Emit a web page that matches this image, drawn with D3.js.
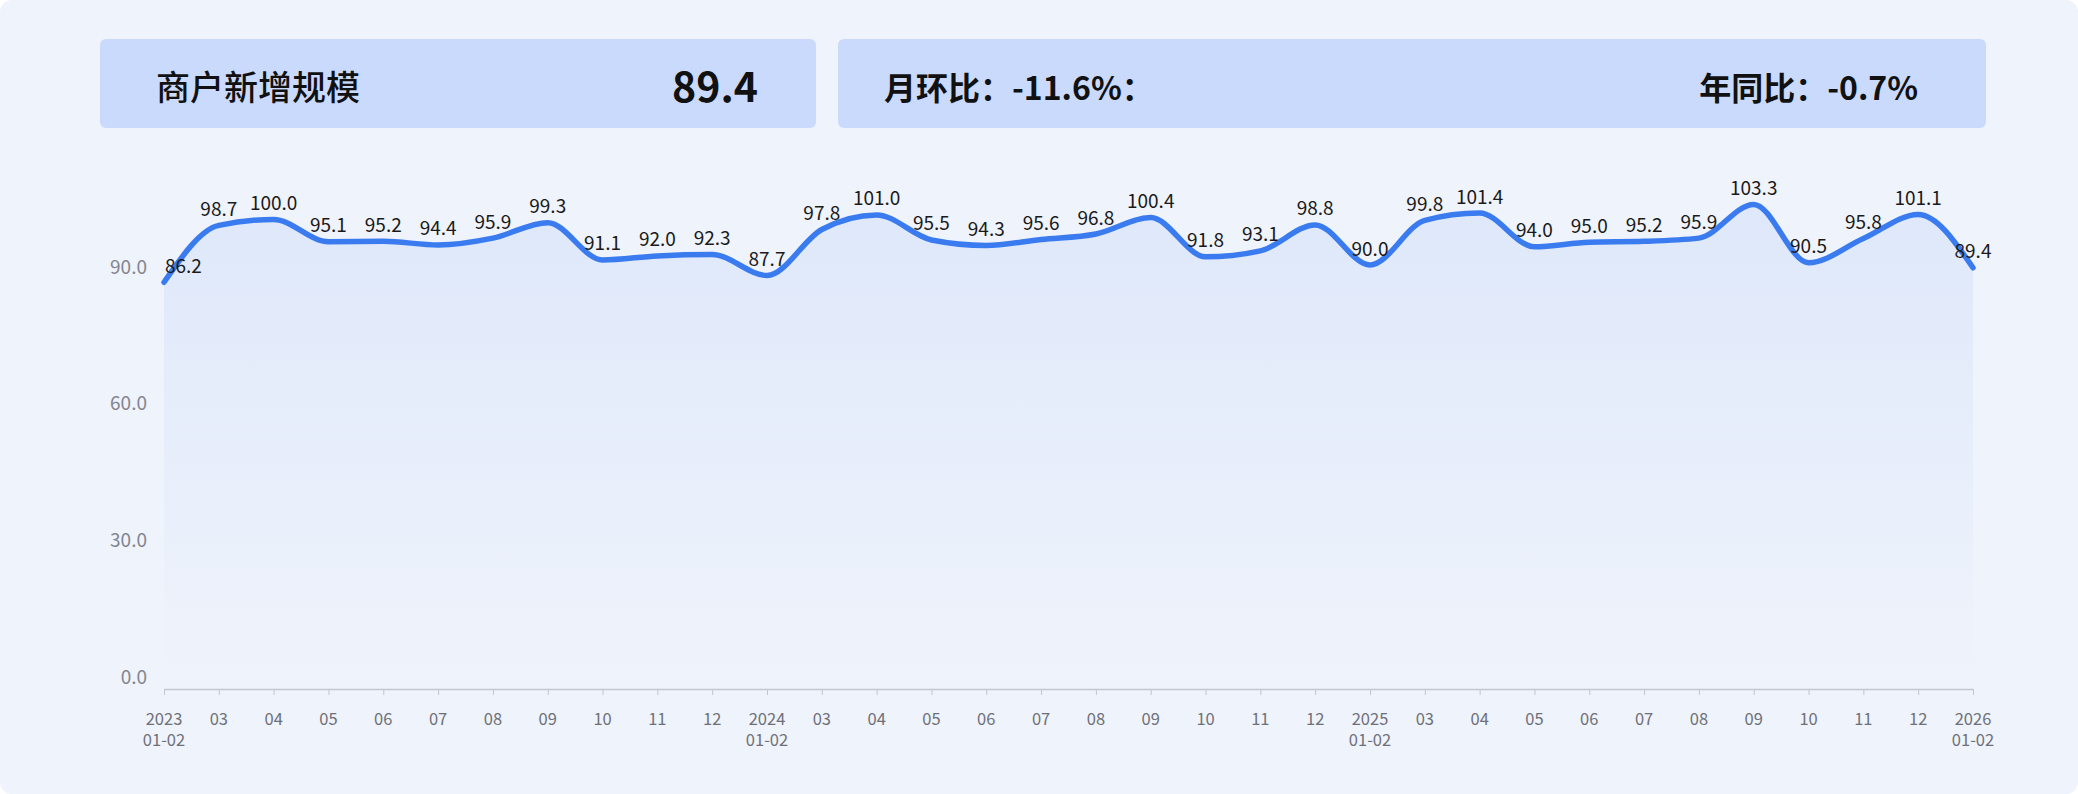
<!DOCTYPE html>
<html>
<head>
<meta charset="utf-8">
<script src="https://cdn.jsdelivr.net/npm/d3@7"></script>
<style>
  html, body { margin: 0; padding: 0; background: #ffffff; }
  svg { display: block; }
</style>
</head>
<body>
<div id="chart"></div>
<script>
// monthly periods (Jan+Feb merged into one point)
const periods = [
  "2023\n01-02", "03", "04", "05", "06", "07", "08", "09", "10", "11", "12",
  "2024\n01-02", "03", "04", "05", "06", "07", "08", "09", "10", "11", "12",
  "2025\n01-02", "03", "04", "05", "06", "07", "08", "09", "10", "11", "12",
  "2026\n01-02"
];
const values = [
  86.2, 98.7, 100.0, 95.1, 95.2, 94.4, 95.9, 99.3, 91.1, 92.0, 92.3,
  87.7, 97.8, 101.0, 95.5, 94.3, 95.6, 96.8, 100.4, 91.8, 93.1, 98.8,
  90.0, 99.8, 101.4, 94.0, 95.0, 95.2, 95.9, 103.3, 90.5, 95.8, 101.1,
  89.4
];
const yTicks = [0, 30, 60, 90];
const title = "商户新增规模";
const latest = "89.4";
const momText = "月环比：-11.6%：";
const yoyText = "年同比：-0.7%";

const W = 2078, H = 794;
const font = "'Noto Sans CJK SC', 'Noto Sans', sans-serif";

const svg = d3.select("#chart").append("svg")
  .attr("width", W)
  .attr("height", H);

const defs = svg.append("defs");
const grad = defs.append("linearGradient")
  .attr("id", "areaFill")
  .attr("x1", 0).attr("y1", 0).attr("x2", 0).attr("y2", 1);
grad.append("stop").attr("offset", "0%").attr("stop-color", "#3a7bf0").attr("stop-opacity", 0.09);
grad.append("stop").attr("offset", "100%").attr("stop-color", "#3a7bf0").attr("stop-opacity", 0.0);

// panel background
svg.append("rect")
  .attr("x", 0).attr("y", 0)
  .attr("width", W).attr("height", H)
  .attr("rx", 12)
  .attr("fill", "#eff3fb");

// header cards
svg.append("rect")
  .attr("x", 100).attr("y", 39)
  .attr("width", 716).attr("height", 89)
  .attr("rx", 6)
  .attr("fill", "#c9dafd");
svg.append("rect")
  .attr("x", 838).attr("y", 39)
  .attr("width", 1148).attr("height", 89)
  .attr("rx", 6)
  .attr("fill", "#c9dafd");

svg.append("text")
  .attr("x", 156).attr("y", 85)
  .attr("dominant-baseline", "central")
  .style("font-family", font)
  .style("font-size", "34px")
  .style("font-weight", "500")
  .style("fill", "#111")
  .text(title);

svg.append("text")
  .attr("x", 758).attr("y", 84)
  .attr("text-anchor", "end")
  .attr("dominant-baseline", "central")
  .style("font-family", font)
  .style("font-size", "41px")
  .style("font-weight", "700")
  .style("fill", "#111")
  .text(latest);

svg.append("text")
  .attr("x", 884).attr("y", 86)
  .attr("dominant-baseline", "central")
  .style("font-family", font)
  .style("font-size", "32px")
  .style("font-weight", "600")
  .style("fill", "#111")
  .text(momText);

svg.append("text")
  .attr("x", 1918).attr("y", 86)
  .attr("text-anchor", "end")
  .attr("dominant-baseline", "central")
  .style("font-family", font)
  .style("font-size", "32px")
  .style("font-weight", "600")
  .style("fill", "#111")
  .text(yoyText);

// scales
const x = d3.scalePoint()
  .domain(d3.range(periods.length))
  .range([164, 1973]);

const y = d3.scaleLinear()
  .domain([0, 90])
  .range([675, 265]);

const axisY = 689;

// y axis labels (no line, no grid)
svg.append("g")
  .selectAll("text")
  .data(yTicks)
  .enter().append("text")
  .attr("x", 147)
  .attr("y", d => y(d))
  .attr("text-anchor", "end")
  .attr("dominant-baseline", "central")
  .style("font-family", font)
  .style("font-size", "19px")
  .style("fill", "#838690")
  .text(d => d.toFixed(1));

// area + line
const area = d3.area()
  .x((d, i) => x(i))
  .y0(y(0))
  .y1(d => y(d))
  .curve(d3.curveMonotoneX);

const line = d3.line()
  .x((d, i) => x(i))
  .y(d => y(d))
  .curve(d3.curveMonotoneX);

svg.append("path")
  .datum(values)
  .attr("d", area)
  .attr("fill", "url(#areaFill)");

svg.append("path")
  .datum(values)
  .attr("d", line)
  .attr("fill", "none")
  .attr("stroke", "#3a7bf0")
  .attr("stroke-width", 5.5)
  .attr("stroke-linecap", "round")
  .attr("stroke-linejoin", "round");

// x axis
const xAxis = svg.append("g")
  .attr("transform", `translate(0,${axisY})`)
  .call(d3.axisBottom(x).tickSize(6).tickSizeOuter(0).tickFormat(""));
xAxis.select(".domain").attr("stroke", "#c3c6ce").attr("stroke-width", 1.5);
xAxis.selectAll(".tick line").attr("stroke", "#c3c6ce");

// x labels: one text per line
const xLines = [];
periods.forEach((p, i) => {
  p.split("\n").forEach((s, j) => xLines.push({ i: i, row: j, s: s }));
});

svg.append("g")
  .selectAll("text")
  .data(xLines)
  .enter().append("text")
  .attr("x", d => x(d.i))
  .attr("y", d => 718 + d.row * 21)
  .attr("text-anchor", "middle")
  .attr("dominant-baseline", "central")
  .style("font-family", font)
  .style("font-size", "16.5px")
  .style("fill", "#6e7079")
  .text(d => d.s);

// data labels
svg.append("g")
  .selectAll("text")
  .data(values)
  .enter().append("text")
  .attr("x", (d, i) => i === 0 ? x(i) + 1 : x(i))
  .attr("y", d => y(d) - 18)
  .attr("text-anchor", (d, i) => i === 0 ? "start" : "middle")
  .attr("dominant-baseline", "central")
  .style("font-family", font)
  .style("font-size", "19px")
  .style("fill", "#1a1a1a")
  .text(d => d.toFixed(1));
</script>
</body>
</html>
